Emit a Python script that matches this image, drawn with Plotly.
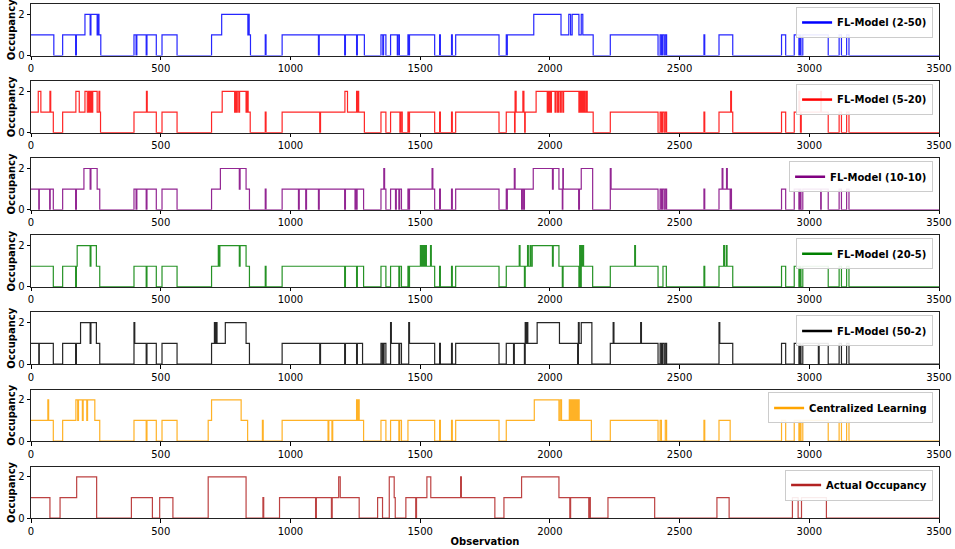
import plotly.graph_objects as go

# Occupancy series as step changes: (observation index where the level starts, level)
fl_2_50 = [
    (0, 1), (88, 0), (122, 1), (172, 0), (175, 1), (208, 2), (228, 1), (231, 2), (255, 1), (258, 2), (262, 1), (269, 0),
    (397, 1), (405, 0), (408, 1), (444, 0), (447, 1), (483, 0), (505, 1), (563, 0),
    (696, 1), (735, 2), (836, 1), (839, 2), (841, 1), (846, 0),
    (903, 1), (906, 0),
    (968, 1), (1108, 0), (1111, 1), (1209, 0), (1212, 1), (1255, 0), (1258, 1), (1285, 0),
    (1349, 1), (1356, 0), (1359, 1), (1368, 0),
    (1386, 1), (1412, 0), (1415, 1), (1420, 0), (1453, 1), (1456, 0), (1459, 1), (1556, 0),
    (1575, 1), (1578, 0), (1621, 1), (1624, 0), (1637, 1), (1804, 0),
    (1832, 1), (1834, 0), (1836, 1), (1938, 2), (2043, 1), (2073, 2), (2080, 1), (2086, 2), (2112, 1), (2121, 2), (2127, 1), (2167, 0),
    (2233, 1), (2417, 0), (2425, 1), (2430, 0), (2434, 1), (2440, 0), (2445, 1), (2450, 0),
    (2594, 1), (2597, 0), (2652, 1), (2705, 0), (2893, 1), (2909, 0),
    (2942, 1), (2960, 0), (2964, 1), (2968, 0), (2975, 1), (3073, 0), (3115, 1), (3124, 0), (3144, 1), (3153, 0), (3500, 0),
]

fl_5_20 = [
    (0, 1), (28, 2), (38, 1), (73, 2), (76, 1), (86, 0), (122, 1), (173, 2), (186, 1), (208, 2), (217, 1), (222, 2), (226, 1),
    (230, 2), (234, 1), (238, 2), (255, 1), (262, 2), (265, 1), (268, 0),
    (397, 1), (445, 2), (448, 1), (483, 0), (505, 1), (563, 0),
    (696, 1), (737, 2), (785, 1), (788, 2), (791, 1), (795, 2), (801, 1), (804, 2), (829, 1), (833, 2), (837, 1), (845, 0),
    (903, 1), (906, 0),
    (968, 1), (1113, 0), (1116, 1), (1210, 2), (1220, 1), (1255, 2), (1258, 1), (1260, 2), (1263, 1), (1285, 0),
    (1349, 1), (1368, 0), (1386, 1), (1422, 0), (1426, 1), (1431, 0), (1453, 1), (1456, 0), (1459, 1), (1556, 0),
    (1575, 1), (1578, 0), (1621, 1), (1624, 0), (1637, 1), (1804, 0),
    (1832, 1), (1864, 0), (1866, 2), (1870, 1), (1896, 2), (1900, 1), (1903, 0), (1905, 1), (1947, 2), (1990, 1), (1993, 2),
    (1997, 1), (2000, 2), (2003, 1), (2006, 2), (2020, 1), (2024, 2), (2030, 1), (2034, 2), (2040, 1), (2044, 2), (2050, 1),
    (2053, 2), (2112, 1), (2116, 2), (2120, 1), (2124, 2), (2128, 1), (2131, 2), (2135, 1), (2140, 2), (2144, 1), (2167, 0),
    (2233, 1), (2417, 0), (2425, 1), (2430, 0), (2434, 1), (2440, 0), (2445, 1), (2450, 0),
    (2594, 1), (2597, 0), (2652, 1), (2697, 2), (2700, 1), (2705, 0), (2893, 1), (2909, 0),
    (2942, 1), (2960, 2), (2963, 1), (2966, 0), (2969, 1), (3044, 2), (3047, 1), (3073, 0), (3115, 1), (3124, 0), (3144, 1), (3153, 0), (3500, 0),
]

fl_10_10 = [
    (0, 1), (30, 0), (32, 1), (72, 0), (74, 1), (86, 0), (122, 1), (172, 0), (175, 1), (204, 2), (228, 1), (231, 2), (255, 1), (265, 0),
    (397, 1), (405, 0), (408, 1), (444, 0), (447, 1), (483, 0), (505, 1), (563, 0),
    (696, 1), (730, 2), (803, 1), (806, 2), (829, 1), (842, 0),
    (903, 1), (906, 0),
    (968, 1), (1031, 0), (1034, 1), (1059, 0), (1062, 1), (1108, 0), (1111, 1), (1209, 0), (1212, 1), (1249, 0), (1252, 1),
    (1254, 0), (1257, 1), (1282, 0),
    (1349, 1), (1360, 2), (1363, 1), (1368, 0),
    (1386, 1), (1405, 0), (1408, 1), (1418, 0), (1421, 1), (1428, 0), (1453, 1), (1456, 0), (1459, 1), (1546, 2), (1549, 1), (1556, 0),
    (1575, 1), (1578, 0), (1621, 1), (1624, 0), (1637, 1), (1804, 0),
    (1832, 1), (1834, 0), (1836, 1), (1863, 2), (1866, 1), (1891, 0), (1894, 1), (1899, 0), (1902, 1), (1936, 2), (2010, 1),
    (2013, 2), (2035, 1), (2048, 0), (2050, 2), (2052, 1), (2111, 0), (2114, 1), (2121, 2), (2165, 0),
    (2233, 2), (2236, 1), (2417, 0), (2425, 1), (2430, 0), (2434, 1), (2440, 0), (2445, 1), (2450, 0),
    (2594, 1), (2597, 0), (2652, 1), (2664, 2), (2667, 1), (2681, 2), (2684, 1), (2695, 0), (2698, 1), (2700, 0),
    (2893, 1), (2909, 0), (2942, 1), (2960, 0), (2964, 1), (2968, 0), (2975, 1), (3044, 0), (3046, 1), (3073, 0),
    (3115, 1), (3124, 0), (3144, 1), (3153, 0), (3500, 0),
]

fl_20_5 = [
    (0, 1), (86, 0), (122, 1), (172, 0), (175, 1), (178, 2), (228, 1), (231, 2), (252, 1), (265, 0),
    (397, 1), (444, 0), (447, 1), (483, 0), (505, 1), (563, 0),
    (696, 1), (722, 2), (725, 1), (728, 2), (803, 1), (806, 2), (829, 1), (842, 0),
    (903, 1), (906, 0),
    (968, 1), (1209, 0), (1212, 1), (1255, 0), (1258, 1), (1282, 0),
    (1349, 1), (1368, 0), (1386, 1), (1418, 0), (1421, 1), (1428, 0),
    (1453, 1), (1456, 0), (1459, 1), (1501, 2), (1504, 1), (1508, 2), (1511, 1), (1514, 2), (1517, 1), (1521, 2), (1524, 1),
    (1540, 2), (1543, 1), (1556, 0),
    (1575, 1), (1578, 0), (1621, 1), (1624, 0), (1637, 1), (1804, 0),
    (1832, 1), (1882, 2), (1885, 1), (1902, 0), (1905, 1), (1914, 2), (1917, 1), (1924, 2), (1927, 1), (1932, 2), (2010, 1),
    (2013, 2), (2035, 1), (2048, 0), (2051, 1), (2112, 0), (2115, 2), (2118, 0), (2121, 2), (2124, 1), (2127, 2), (2130, 1), (2165, 0),
    (2233, 1), (2327, 2), (2330, 1), (2417, 0), (2436, 1), (2449, 0),
    (2594, 1), (2597, 0), (2652, 1), (2670, 2), (2673, 1), (2680, 2), (2683, 1), (2705, 0),
    (2893, 1), (2909, 0), (2942, 1), (2960, 0), (2964, 1), (2968, 0), (2975, 1), (3073, 0),
    (3115, 1), (3124, 0), (3144, 1), (3153, 0), (3500, 0),
]

fl_50_2 = [
    (0, 1), (30, 0), (32, 1), (86, 0), (122, 1), (172, 0), (175, 1), (191, 2), (228, 1), (231, 2), (252, 1), (265, 0),
    (397, 2), (400, 1), (444, 0), (447, 1), (483, 0), (505, 1), (563, 0),
    (696, 1), (707, 2), (710, 1), (713, 2), (717, 1), (749, 2), (829, 1), (842, 0),
    (968, 1), (1113, 0), (1116, 1), (1209, 0), (1212, 1), (1255, 0), (1258, 1), (1278, 0),
    (1349, 1), (1354, 0), (1356, 1), (1359, 0), (1361, 1), (1368, 0),
    (1386, 2), (1389, 1), (1418, 0), (1421, 1), (1428, 0), (1456, 2), (1459, 1), (1556, 0),
    (1575, 1), (1578, 0), (1621, 1), (1624, 0), (1637, 1), (1804, 0),
    (1832, 1), (1860, 0), (1863, 1), (1902, 0), (1905, 2), (1908, 1), (1912, 2), (1915, 1), (1951, 2), (2037, 1),
    (2107, 0), (2110, 2), (2113, 1), (2121, 2), (2162, 0),
    (2233, 1), (2244, 2), (2247, 1), (2350, 2), (2353, 1), (2417, 0), (2425, 1), (2430, 0), (2434, 1), (2440, 0), (2445, 1), (2450, 0),
    (2652, 2), (2655, 1), (2705, 0),
    (2893, 1), (2909, 0), (2942, 1), (2960, 0), (2964, 1), (2968, 0), (2975, 1), (3035, 0), (3038, 1), (3073, 0),
    (3115, 1), (3124, 0), (3144, 1), (3153, 0), (3500, 0),
]

centralized = [
    (0, 1), (65, 2), (68, 1), (86, 0), (122, 1), (173, 2), (180, 1), (183, 2), (198, 1), (201, 2), (215, 1), (218, 2), (246, 1), (265, 0),
    (397, 1), (444, 0), (447, 1), (483, 0), (505, 1), (563, 0),
    (683, 1), (696, 2), (810, 1), (835, 0),
    (892, 1), (895, 0),
    (968, 1), (1145, 0), (1148, 1), (1160, 0), (1163, 1), (1255, 2), (1258, 1), (1262, 2), (1265, 1), (1282, 0),
    (1349, 1), (1368, 0), (1386, 1), (1418, 0), (1421, 1), (1428, 0), (1453, 1), (1556, 0),
    (1575, 1), (1578, 0), (1621, 1), (1624, 0), (1637, 1), (1804, 0),
    (1832, 1), (1940, 2), (2035, 1), (2040, 2), (2045, 1), (2075, 2), (2079, 1), (2082, 2), (2086, 1), (2089, 2), (2093, 1),
    (2096, 2), (2100, 1), (2103, 2), (2107, 1), (2110, 2), (2113, 1), (2160, 0),
    (2233, 1), (2417, 0), (2425, 1), (2430, 0), (2445, 1), (2450, 0), (2594, 1), (2597, 0), (2652, 1), (2695, 0),
    (2893, 1), (2909, 0), (2942, 1), (2960, 0), (2964, 1), (2968, 0), (2975, 1), (3073, 0),
    (3115, 1), (3124, 0), (3144, 1), (3153, 0), (3500, 0),
]

actual = [
    (0, 1), (73, 0), (112, 1), (176, 2), (253, 0), (387, 1), (468, 0), (496, 1), (547, 0), (683, 2), (829, 0),
    (894, 1), (897, 0), (958, 1), (1097, 0), (1100, 1), (1158, 0), (1161, 1), (1186, 2), (1192, 1), (1265, 0),
    (1336, 1), (1355, 0), (1381, 2), (1400, 1), (1404, 0), (1445, 1), (1483, 0), (1486, 1), (1526, 2), (1541, 1),
    (1656, 2), (1659, 1), (1788, 0), (1823, 1), (1891, 2), (2035, 1), (2077, 0), (2080, 1), (2150, 0), (2153, 1),
    (2156, 0), (2224, 1), (2404, 0), (2644, 1), (2691, 0), (2935, 1), (2957, 0), (2970, 1), (3066, 0), (3500, 0),
]

series_names = ["FL-Model (2-50)", "FL-Model (5-20)", "FL-Model (10-10)", "FL-Model (20-5)",
                "FL-Model (50-2)", "Centralized Learning", "Actual Occupancy"]
series_data = [fl_2_50, fl_5_20, fl_10_10, fl_20_5, fl_50_2, centralized, actual]
series_colors = ["#0000ff", "#ff0000", "#800080", "#008000", "#000000", "#ffa500", "#b22222"]
x_ticks = [0, 500, 1000, 1500, 2000, 2500, 3000, 3500]
y_ticks = [0, 2]

W, H = 955, 549
M_T, M_B, M_L, M_R = 3, 27, 31, 15
plot_h = H - M_T - M_B
panel_h = 52
panel_step = 77.7

FONT = "DejaVu Sans"
fig = go.Figure()
layout = dict(
    width=W, height=H,
    margin=dict(t=M_T, b=M_B, l=M_L, r=M_R),
    paper_bgcolor="white", plot_bgcolor="white",
    font=dict(family=FONT, size=10, color="black"),
    showlegend=True,
)

for i, (name, data, color) in enumerate(zip(series_names, series_data, series_colors)):
    n = i + 1
    suffix = "" if n == 1 else str(n)
    top_px = i * panel_step
    top = 1 - top_px / plot_h
    bottom = 1 - (top_px + panel_h) / plot_h
    xs = [p[0] for p in data]
    ys = [p[1] for p in data]
    # the step line itself
    fig.add_trace(go.Scatter(
        x=xs, y=ys, mode="lines", line=dict(color=color, width=1.2, shape="hv"),
        name=name, xaxis="x" + suffix, yaxis="y" + suffix, showlegend=False,
        opacity=0.85,
    ))
    # legend entry drawn with a heavier line sample
    fig.add_trace(go.Scatter(
        x=[None], y=[None], mode="lines", line=dict(color=color, width=2.5),
        name=name, xaxis="x" + suffix, yaxis="y" + suffix, legend="legend" + suffix,
        showlegend=True, hoverinfo="skip",
    ))
    layout["xaxis" + suffix] = dict(
        domain=[0, 1], anchor="y" + suffix, range=[0, 3500],
        tickvals=x_ticks, ticks="outside", ticklen=3.5, tickwidth=0.8, tickcolor="black",
        showline=True, linecolor="#222222", linewidth=1, mirror=True,
        showgrid=False, zeroline=False, tickfont=dict(size=10, family=FONT),
    )
    layout["yaxis" + suffix] = dict(
        domain=[bottom, top], anchor="x" + suffix, range=[0, 2.5],
        tickvals=y_ticks, ticks="outside", ticklen=3.5, tickwidth=0.8, tickcolor="black",
        showline=True, linecolor="#222222", linewidth=1, mirror=True,
        showgrid=False, zeroline=False, tickfont=dict(size=10, family=FONT),
        title=dict(text="Occupancy", font=dict(size=10, family=FONT, weight="bold"), standoff=0),
    )
    layout["legend" + suffix] = dict(
        x=0.9935, xanchor="right", y=top - 3 / plot_h, yanchor="top",
        bgcolor="rgba(255,255,255,0.9)", bordercolor="#cccccc", borderwidth=1,
        font=dict(size=10, family=FONT, weight="bold", color="black"),
        itemwidth=30, tracegroupgap=0,
    )

layout["xaxis7"]["title"] = dict(text="Observation", font=dict(size=10, family=FONT, weight="bold"), standoff=2)
fig.update_layout(**layout)

fig.write_html("out.html")
